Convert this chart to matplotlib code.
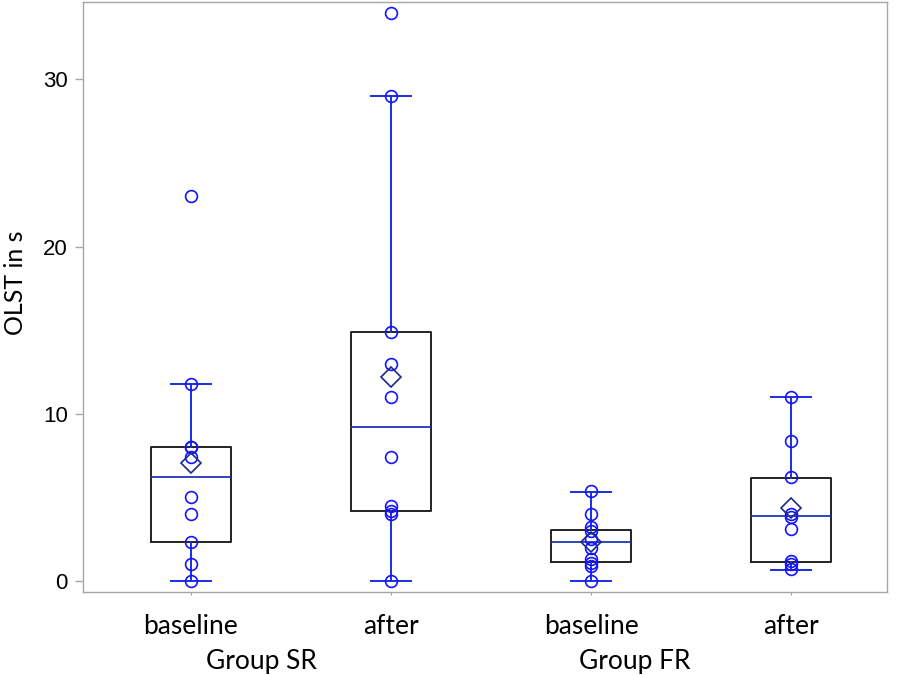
import matplotlib
matplotlib.use("Agg")
import matplotlib.pyplot as plt
import numpy as np

# values
positions = [1, 2, 3, 4]
tick_labels = ["baseline", "after", "baseline", "after"]
group_names = ["Group SR", "Group FR"]
group_x = [1.35, 3.22]

sr_baseline = [0, 1.0, 2.3, 4.0, 5.0, 7.4, 8.0, 8.0, 11.8, 23.0]
sr_after = [0, 4.0, 4.2, 4.5, 7.4, 11.0, 13.0, 14.9, 29.0, 34.0]
fr_baseline = [0, 0.9, 1.1, 1.3, 2.0, 2.5, 3.0, 3.2, 4.0, 5.4]
fr_after = [0.7, 1.0, 1.2, 3.1, 3.8, 4.0, 6.2, 8.4, 11.0]
samples = [sr_baseline, sr_after, fr_baseline, fr_after]

medians = [6.2, 9.2, 2.3, 3.9]
q1 = [2.3, 4.2, 1.15, 1.15]
q3 = [8.0, 14.9, 3.05, 6.15]
whis_lo = [0, 0, 0, 0.65]
whis_hi = [11.8, 29.0, 5.35, 11.0]

narrow = ["Lato", "DejaVu Sans"]
plain = ["Liberation Sans", "DejaVu Sans"]

fig = plt.figure(figsize=(8.98, 6.75), dpi=100)
ax = fig.add_axes([0.0924, 0.123, 0.8954, 0.874])

stats = []
for i in range(4):
    stats.append(dict(med=medians[i], q1=q1[i], q3=q3[i],
                      whislo=whis_lo[i], whishi=whis_hi[i],
                      mean=np.mean(samples[i]), fliers=[]))

ax.bxp(stats, positions=positions, widths=0.4, showmeans=False,
       showfliers=False,
       boxprops=dict(color="#222222", linewidth=1.4),
       medianprops=dict(color="#2236b8", linewidth=1.3),
       whiskerprops=dict(color="#1a2ee0", linewidth=1.4),
       capprops=dict(color="#1a2ee0", linewidth=1.4),
       capwidths=0.2, manage_ticks=False, zorder=2)

for p, vals in zip(positions, samples):
    ax.plot([p] * len(vals), vals, linestyle="none", marker="o",
            markersize=8.5, markerfacecolor="none", markeredgecolor="#1414ff",
            markeredgewidth=1.2, zorder=4)
    ax.plot([p], [np.mean(vals)], linestyle="none", marker="D",
            markersize=10, markerfacecolor="none", markeredgecolor="#1b2a8a",
            markeredgewidth=1.2, zorder=5)

ax.set_xlim(0.46, 4.48)
ax.set_ylim(-0.66, 34.63)
ax.set_yticks([0, 10, 20, 30])
ax.set_xticks(positions)
ax.set_xticklabels(tick_labels, fontsize=19, family=narrow)
for lab in ax.get_yticklabels():
    lab.set_family(plain)
    lab.set_fontsize(16)

for s in ax.spines.values():
    s.set_color("#a6a6a6")
    s.set_linewidth(1.0)
ax.tick_params(axis="y", direction="out", length=6, width=1, color="#a6a6a6",
               pad=5, labelcolor="black")
ax.tick_params(axis="x", direction="out", length=2.5, width=0.8,
               color="#a6a6a6", pad=13, labelcolor="black")

ax.set_ylabel("OLST in s", fontsize=18, family=narrow)
ax.yaxis.set_label_coords(-0.069, 0.525)

for name, gx in zip(group_names, group_x):
    ax.text(gx, -0.118, name, transform=ax.get_xaxis_transform(),
            ha="center", va="center", fontsize=19, family=narrow)

fig.savefig("out.png", dpi=100)
